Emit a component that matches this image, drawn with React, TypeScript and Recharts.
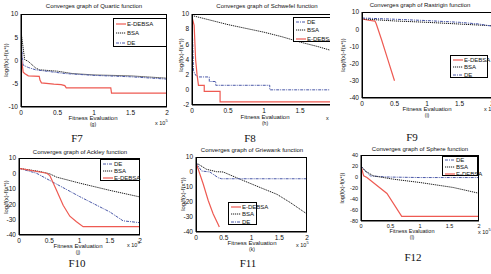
import React from "react";
import { LineChart, Line, XAxis, YAxis } from "recharts";

type Pt = [number, number];

const xTicks = [0, 0.5, 1, 1.5, 2];

// F7 Quartic
const quarticEdebsa: Pt[] = [[0, 5], [0.01, 0], [0.03, -2.5], [0.05, -2.8], [0.1, -3.3], [0.25, -3.4], [0.26, -4.2], [0.28, -4.8], [0.45, -5.1], [0.55, -5.2], [0.6, -5.4], [0.62, -5.9], [1.23, -5.9], [1.24, -7], [2, -7]];
const quarticBsa: Pt[] = [[0, 6.3], [0.05, 0.2], [0.1, -0.2], [0.2, -1.6], [0.25, -2], [0.5, -2.3], [0.7, -2.8], [1, -3.1], [1.5, -3.3], [2, -3.8]];
const quarticDe: Pt[] = [[0, 4.5], [0.03, -1], [0.1, -1.5], [0.2, -2], [0.3, -2.2], [0.6, -2.8], [1, -3.2], [1.5, -3.5], [2, -4]];

// F8 Schwefel
const schwefelDe: Pt[] = [[0, 10], [0.01, 6], [0.02, 2.5], [0.04, 2.1], [0.07, 1.7], [0.24, 1.7], [0.24, 1.1], [0.33, 1.1], [0.33, 0.6], [1.08, 0.6], [1.08, 0], [2, 0]];
const schwefelBsa: Pt[] = [[0, 9.8], [0.25, 9.2], [0.5, 8.6], [0.75, 8.1], [1, 7.6], [1.25, 7.0], [1.5, 6.3], [1.75, 5.7], [2, 5.0]];
const schwefelEdebsa: Pt[] = [[0, 9.6], [0.03, 8.5], [0.05, 4], [0.07, 2], [0.09, 0.6], [0.17, 0.6], [0.17, -0.2], [0.39, -0.2], [0.39, -1.6], [2, -1.6]];

// F9 Rastrigin
const rastriginEdebsa: Pt[] = [[0, 6], [0.1, 5.2], [0.2, 4.7], [0.22, 3], [0.3, -6], [0.4, -18], [0.45, -24], [0.5, -30]];
const rastriginBsa: Pt[] = [[0, 6], [0.5, 4.8], [1, 4], [1.5, 3], [2, 2]];
const rastriginDe: Pt[] = [[0, 6.5], [0.5, 5.8], [1, 5], [1.5, 4], [1.8, 3], [2, 1.8]];

// F10 Ackley
const ackleyDe: Pt[] = [[0, 3.3], [0.29, 0.1], [0.51, -4.6], [1, -15], [1.5, -25], [1.72, -30.8], [2, -32]];
const ackleyBsa: Pt[] = [[0, 3.3], [0.35, 1.2], [0.51, -0.3], [0.62, -2.4], [1, -6.3], [1.5, -11], [2, -15.3]];
const ackleyEdebsa: Pt[] = [[0, 3.3], [0.46, 0.1], [0.51, -1.4], [0.62, -11], [0.73, -20.7], [0.84, -27.8], [0.95, -31.4], [1.06, -34.6], [2, -34.6]];

// F11 Griewank
const griewankEdebsa: Pt[] = [[0, 6.2], [0.13, -8], [0.22, -19], [0.31, -28], [0.4, -35], [0.42, -36.7]];
const griewankBsa: Pt[] = [[0, 6.2], [0.19, 1.8], [0.37, 0.2], [0.49, 0], [0.8, -4.9], [1.16, -10.4], [1.46, -14.9], [1.7, -20.4], [2, -28]];
const griewankDe: Pt[] = [[0, 6.2], [0.1, 0.7], [0.25, 0], [0.4, -3.8], [0.46, -4.5], [2, -4.5]];

// F12 Sphere
const sphereDe: Pt[] = [[0, 20], [0.1, 8], [0.16, 2], [0.44, 0], [1, -1], [2, -1]];
const sphereBsa: Pt[] = [[0, 20], [0.07, 11], [0.21, 2], [0.55, -4], [1, -10], [1.56, -19], [2, -29.6]];
const sphereEdebsa: Pt[] = [[0, 20], [0.045, 2], [0.1, -1], [0.44, -30], [0.69, -71.6], [2, -71.6]];

const ticks10to40 = [-40, -30, -20, -10, 0, 10];

const RED = "#ee5a52";
const BLUE = "#4a58a8";
const BLACK = "#1a1a1a";
const FONT = "'Liberation Sans', Arial, sans-serif";

const seriesStyle: Record<string, { stroke: string; dash?: string; width: number }> = {
  "E-DEBSA": { stroke: RED, width: 1.2 },
  BSA: { stroke: BLACK, dash: "1.2 0.8", width: 1 },
  DE: { stroke: BLUE, dash: "3 1 1 1", width: 1 },
};

interface Rect { x: number; y: number; w: number; h: number }
interface PanelCfg {
  title: string; sub: string; fig: string;
  plot: Rect; yDomain: [number, number]; yTicks: number[];
  series: { name: string; pts: Pt[] }[];
  legend: Rect;
  titlePos: [number, number]; ylabPos: [number, number]; xlabPos: [number, number];
  subPos: [number, number]; expPos: [number, number]; figPos: [number, number];
  clipRight?: number;
  small?: boolean;
}

const Txt: React.FC<{ x: number; y: number; size: number; children: React.ReactNode; rotate?: boolean; serif?: boolean; align?: "center" | "left" }> = ({ x, y, size, children, rotate, serif, align = "center" }) => (
  <div
    style={{
      position: "absolute", left: x, top: y, whiteSpace: "nowrap",
      fontFamily: serif ? "'Liberation Serif', 'Times New Roman', serif" : FONT,
      fontSize: size, lineHeight: 1, color: "#111",
      transform: `translate(${align === "center" ? "-50%" : "0"}, -50%)${rotate ? " rotate(-90deg)" : ""}`,
    }}
  >
    {children}
  </div>
);

const YW = 16, XH = 12, MT = 5, MR = 6;

const Panel: React.FC<{ c: PanelCfg }> = ({ c }) => {
  const { plot } = c;
  const chartW = YW + plot.w + MR;
  const chartH = MT + plot.h + XH;
  const fs = c.small ? 5.5 : 6.5;
  const tickStyle = { fontSize: fs, fill: "#111", fontFamily: FONT };
  const chart = (
    <div style={{ position: "absolute", left: plot.x - YW, top: plot.y - MT }}>
      <LineChart width={chartW} height={chartH} margin={{ top: MT, right: MR, bottom: 0, left: 0 }}>
        <XAxis dataKey="x" type="number" domain={[0, 2]} ticks={xTicks} height={XH} tickLine={false} tickSize={2}
          axisLine={{ stroke: "#000" }} tick={tickStyle} tickMargin={1} interval={0} allowDataOverflow />
        <YAxis type="number" domain={c.yDomain} ticks={c.yTicks} width={YW} tickLine={false} tickSize={2}
          axisLine={{ stroke: "#000" }} tick={tickStyle} tickMargin={1} interval={0} allowDataOverflow />
        {c.series.map((s) => {
          const st = seriesStyle[s.name];
          return (
            <Line key={s.name} data={s.pts.map(([x, y]) => ({ x, y }))} dataKey="y" type="linear"
              stroke={st.stroke} strokeDasharray={st.dash} strokeWidth={st.width} dot={false}
              isAnimationActive={false} />
          );
        })}
      </LineChart>
      <div style={{ position: "absolute", left: YW, top: MT, width: plot.w, height: plot.h, border: "1px solid #000", boxSizing: "border-box", pointerEvents: "none" }} />
    </div>
  );
  const lg = c.legend;
  const rowH = lg.h / c.series.length;
  const legend = (
    <div style={{ position: "absolute", left: lg.x, top: lg.y, width: lg.w, height: lg.h, border: "1px solid #000", background: "#fff", boxSizing: "border-box" }}>
      {c.series.map((s, i) => {
        const st = seriesStyle[s.name];
        return (
          <div key={s.name} style={{ position: "absolute", left: 2, top: i * rowH, height: rowH, display: "flex", alignItems: "center", whiteSpace: "nowrap" }}>
            <svg width={10} height={4} style={{ display: "block" }}>
              <line x1={0} y1={2} x2={10} y2={2} stroke={st.stroke} strokeDasharray={st.dash} strokeWidth={st.width} />
            </svg>
            <span style={{ fontFamily: FONT, fontSize: 6, marginLeft: 1, color: "#111", lineHeight: 1 }}>{s.name}</span>
          </div>
        );
      })}
    </div>
  );
  const lf = c.small ? 5.5 : 6;
  const body = (
    <>
      {chart}
      {legend}
      <Txt x={c.titlePos[0]} y={c.titlePos[1]} size={6}>{c.title}</Txt>
      <Txt x={c.ylabPos[0]} y={c.ylabPos[1]} size={lf} rotate>log(f(x)-f(x*))</Txt>
      <Txt x={c.xlabPos[0]} y={c.xlabPos[1]} size={lf}>Fitness Evaluation</Txt>
      <Txt x={c.subPos[0]} y={c.subPos[1]} size={5}>{c.sub}</Txt>
      <Txt x={c.expPos[0]} y={c.expPos[1]} size={5.5} align="left">x 10<sup style={{ fontSize: 4 }}>5</sup></Txt>
    </>
  );
  return (
    <>
      {c.clipRight ? (
        <div style={{ position: "absolute", left: 0, top: 0, width: c.clipRight, height: 274, overflow: "hidden" }}>{body}</div>
      ) : body}
      <Txt x={c.figPos[0]} y={c.figPos[1]} size={11} serif>{c.fig}</Txt>
    </>
  );
};

const panels: PanelCfg[] = [
  {
    title: "Converges graph of Quartic function", sub: "(g)", fig: "F7",
    plot: { x: 21, y: 14, w: 146, h: 93 }, yDomain: [-10, 10], yTicks: [-10, -5, 0, 5, 10],
    series: [{ name: "E-DEBSA", pts: quarticEdebsa }, { name: "BSA", pts: quarticBsa }, { name: "DE", pts: quarticDe }],
    legend: { x: 113, y: 18, w: 54, h: 29 },
    titlePos: [94, 6], ylabPos: [6, 60], xlabPos: [93, 118], subPos: [93, 124], expPos: [155, 123], figPos: [77, 138],
  },
  {
    title: "Converges graph of Schwefel function", sub: "(h)", fig: "F8",
    plot: { x: 192, y: 14, w: 144, h: 91 }, yDomain: [-2, 10], yTicks: [-2, 0, 2, 4, 6, 8, 10],
    series: [{ name: "DE", pts: schwefelDe }, { name: "BSA", pts: schwefelBsa }, { name: "E-DEBSA", pts: schwefelEdebsa }],
    legend: { x: 293, y: 17, w: 50, h: 25 },
    titlePos: [267, 6], ylabPos: [181, 55], xlabPos: [265, 117], subPos: [265, 123], expPos: [326, 118], figPos: [250, 138],
    clipRight: 330,
  },
  {
    title: "Converges graph of Rastrigin function", sub: "(i)", fig: "F9",
    plot: { x: 362, y: 12, w: 130, h: 86 }, yDomain: [-40, 10], yTicks: ticks10to40,
    series: [{ name: "E-DEBSA", pts: rastriginEdebsa }, { name: "BSA", pts: rastriginBsa }, { name: "DE", pts: rastriginDe }],
    legend: { x: 450, y: 55, w: 38, h: 23 },
    titlePos: [420, 5], ylabPos: [343, 55], xlabPos: [427, 109], subPos: [427, 115], expPos: [484, 109], figPos: [412, 137],
  },
  {
    title: "Converges graph of Ackley function", sub: "(j)", fig: "F10",
    plot: { x: 19, y: 158, w: 121, h: 77 }, yDomain: [-40, 10], yTicks: ticks10to40,
    series: [{ name: "DE", pts: ackleyDe }, { name: "BSA", pts: ackleyBsa }, { name: "E-DEBSA", pts: ackleyEdebsa }],
    legend: { x: 100, y: 159, w: 40, h: 22 },
    titlePos: [80, 152], ylabPos: [6, 197], xlabPos: [78, 246], subPos: [78, 252], expPos: [127, 245], figPos: [77, 263],
  },
  {
    title: "Converges graph of Griewank function", sub: "(k)", fig: "F11",
    plot: { x: 196, y: 157, w: 111, h: 75 }, yDomain: [-40, 10], yTicks: ticks10to40,
    series: [{ name: "E-DEBSA", pts: griewankEdebsa }, { name: "BSA", pts: griewankBsa }, { name: "DE", pts: griewankDe }],
    legend: { x: 228, y: 202, w: 29, h: 23 },
    titlePos: [252, 150], ylabPos: [183, 194], xlabPos: [252, 243], subPos: [252, 249], expPos: [296, 245], figPos: [248, 263],
  },
  {
    title: "Converges graph of Sphere function", sub: "(l)", fig: "F12",
    plot: { x: 361, y: 155, w: 118, h: 66 }, yDomain: [-80, 40], yTicks: [-80, -60, -40, -20, 0, 20, 40],
    series: [{ name: "DE", pts: sphereDe }, { name: "BSA", pts: sphereBsa }, { name: "E-DEBSA", pts: sphereEdebsa }],
    legend: { x: 442, y: 156, w: 36, h: 20 },
    titlePos: [420, 149], ylabPos: [343, 188], xlabPos: [412, 232], subPos: [412, 237], expPos: [478, 232], figPos: [413, 257],
    small: true,
  },
];

export default function App() {
  return (
    <div style={{ position: "absolute", left: 0, top: 0, width: 491, height: 274, background: "#fff", overflow: "hidden" }}>
      {panels.map((p) => <Panel key={p.fig} c={p} />)}
    </div>
  );
}
